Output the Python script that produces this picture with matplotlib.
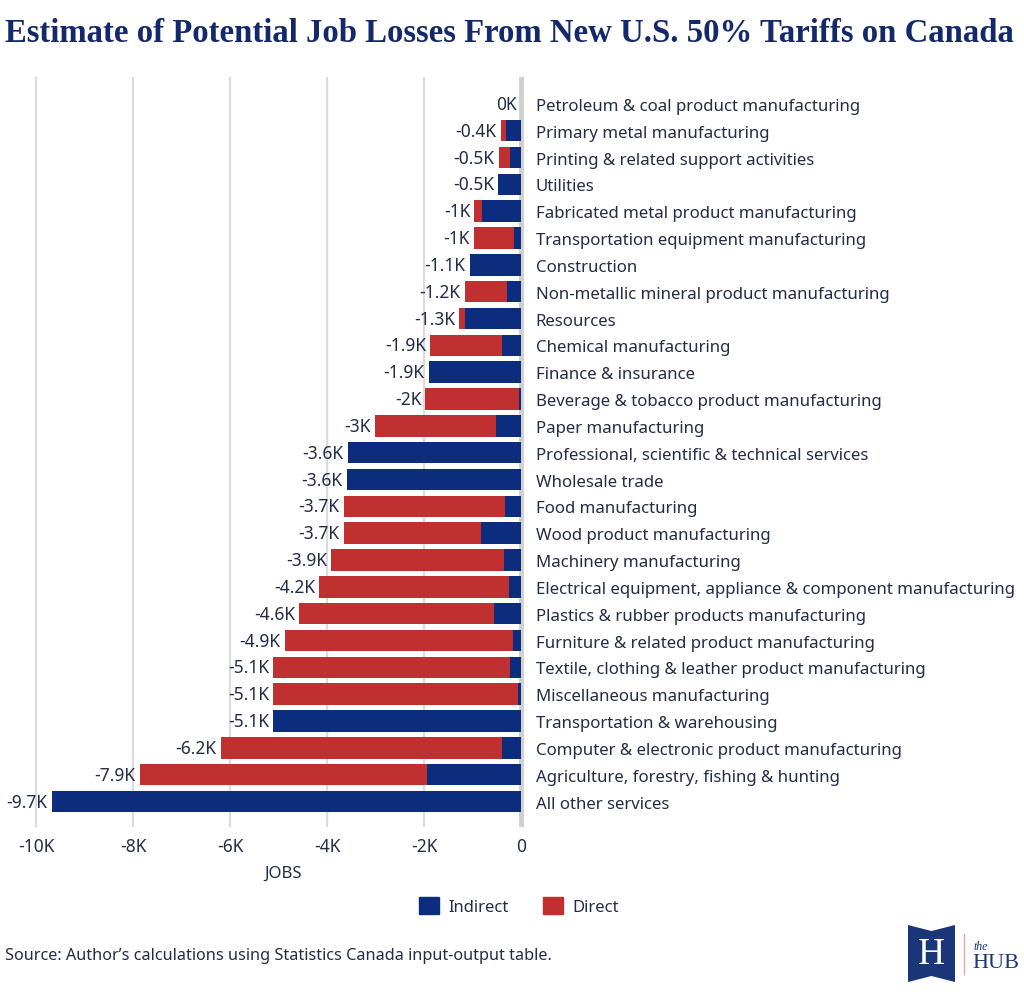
import matplotlib
matplotlib.use("Agg")
import matplotlib.pyplot as plt
from matplotlib.patches import Patch, Polygon
from matplotlib.lines import Line2D
from matplotlib.ticker import FixedLocator

# job losses, thousands of jobs (shown as negative)
categories = [
    "Petroleum & coal product manufacturing",
    "Primary metal manufacturing",
    "Printing & related support activities",
    "Utilities",
    "Fabricated metal product manufacturing",
    "Transportation equipment manufacturing",
    "Construction",
    "Non-metallic mineral product manufacturing",
    "Resources",
    "Chemical manufacturing",
    "Finance & insurance",
    "Beverage & tobacco product manufacturing",
    "Paper manufacturing",
    "Professional, scientific & technical services",
    "Wholesale trade",
    "Food manufacturing",
    "Wood product manufacturing",
    "Machinery manufacturing",
    "Electrical equipment, appliance & component manufacturing",
    "Plastics & rubber products manufacturing",
    "Furniture & related product manufacturing",
    "Textile, clothing & leather product manufacturing",
    "Miscellaneous manufacturing",
    "Transportation & warehousing",
    "Computer & electronic product manufacturing",
    "Agriculture, forestry, fishing & hunting",
    "All other services",
]
indirect = [0.00, 0.30, 0.22, 0.47, 0.80, 0.15, 1.06, 0.29, 1.15, 0.40,
            1.90, 0.05, 0.52, 3.57, 3.59, 0.33, 0.82, 0.36, 0.24, 0.55,
            0.17, 0.22, 0.07, 5.11, 0.40, 1.94, 9.68]
direct = [0.00, 0.12, 0.24, 0.00, 0.16, 0.82, 0.00, 0.87, 0.12, 1.47,
          0.00, 1.92, 2.49, 0.00, 0.00, 3.33, 2.84, 3.55, 3.92, 4.02,
          4.70, 4.89, 5.04, 0.00, 5.79, 5.92, 0.00]
xticks = [-10, -8, -6, -4, -2, 0]
xticklabels = ["-10K", "-8K", "-6K", "-4K", "-2K", "0"]

BLUE = "#0c2d7e"
RED = "#c03031"
TEXT = "#222d45"
NAVY = "#13296b"
GRID = "#dcdcdc"
SANS = "Noto Sans"
WT = "semibold"

W, H = 1024, 995
fig = plt.figure(figsize=(W / 100, H / 100), dpi=100)

# axes placed in pixel terms
left_px, right_px = 16.6, 525.9
top_px, bot_px = 78, 828
ax = fig.add_axes([left_px / W, 1 - bot_px / H, (right_px - left_px) / W, (bot_px - top_px) / H])

ypos = list(range(len(categories)))
neg_ind = [-v for v in indirect]
neg_dir = [-v for v in direct]
ax.barh(ypos, neg_ind, height=0.8, color=BLUE, zorder=3)
ax.barh(ypos, neg_dir, left=neg_ind, height=0.8, color=RED, zorder=3)

# value labels at end of bar
for y, a, b in zip(ypos, indirect, direct):
    tot = a + b
    s = f"{tot:.1f}"
    if s.endswith(".0"):
        s = s[:-2]
    lab = "0K" if tot == 0 else "-" + s + "K"
    ax.annotate(lab, xy=(-tot, y), xytext=(-3, 0), textcoords="offset points",
                ha="right", va="center", fontsize=12.5, color=TEXT,
                family=SANS, fontweight=WT, zorder=4)

ax.set_xlim(-10.4, 0.1)
ax.set_ylim(len(categories) - 0.05, -1.0)
ax.xaxis.set_major_locator(FixedLocator(xticks))
ax.set_xticklabels(xticklabels)
for x in xticks[:-1]:
    ax.axvline(x, color=GRID, lw=1.6, zorder=1)
ax.axvline(0, color="#d0d0d0", lw=3.5, zorder=2)

ax.set_yticks(ypos)
ax.set_yticklabels(categories)
ax.yaxis.tick_right()
ax.tick_params(axis="y", length=0, pad=7, labelsize=12.1, labelcolor=TEXT)
ax.tick_params(axis="x", length=0, pad=7, labelsize=12.5, labelcolor=TEXT)
for t in ax.get_xticklabels() + ax.get_yticklabels():
    t.set_family(SANS)
    t.set_fontweight(WT)
for sp in ax.spines.values():
    sp.set_visible(False)
ax.set_facecolor("none")

fig.text(283 / W, 1 - 874 / H, "JOBS", ha="center", va="center", fontsize=12,
         color=TEXT, family=SANS, fontweight=WT)

# title
fig.text(5 / W, 1 - 34 / H, "Estimate of Potential Job Losses From New U.S. 50% Tariffs on Canada",
         ha="left", va="center", fontsize=23.6, color=NAVY, family="Liberation Serif",
         fontweight="bold")

# legend
handles = [Patch(color=BLUE, label="Indirect"), Patch(color=RED, label="Direct")]
fig.legend(handles=handles, loc="center", bbox_to_anchor=(519 / W, 1 - 907 / H), ncol=2,
           frameon=False, handlelength=1.2, handleheight=1.2, columnspacing=2.0,
           handletextpad=0.6, prop={"family": SANS, "size": 12, "weight": WT},
           labelcolor=TEXT)

fig.text(5 / W, 1 - 956 / H, "Source: Author\u2019s calculations using Statistics Canada input-output table.",
         ha="left", va="center", fontsize=11.7, color=TEXT, family=SANS)

# logo
def px(x, y):
    return (x / W, 1 - y / H)

banner = Polygon([px(908, 926), px(931.5, 932), px(955, 926), px(955, 983), px(931.5, 977), px(908, 983)],
                 closed=True, transform=fig.transFigure, facecolor="#1a3578", edgecolor="none")
fig.patches.append(banner)
fig.text(931.5 / W, 1 - 955 / H, "H", ha="center", va="center", fontsize=27, color="white",
         family="Liberation Serif")
fig.lines.append(Line2D([964 / W, 964 / W], [1 - 935 / H, 1 - 975 / H], transform=fig.transFigure,
                        color="#e3a5a5", lw=1))
fig.text(973 / W, 1 - 947 / H, "the", ha="left", va="center", fontsize=8.5, color="#1a3578",
         family="Liberation Serif", style="italic")
fig.text(972 / W, 1 - 964 / H, "HUB", ha="left", va="center", fontsize=16, color="#1a3578",
         family="Liberation Serif")

fig.savefig("out.png", dpi=100, facecolor="white")
